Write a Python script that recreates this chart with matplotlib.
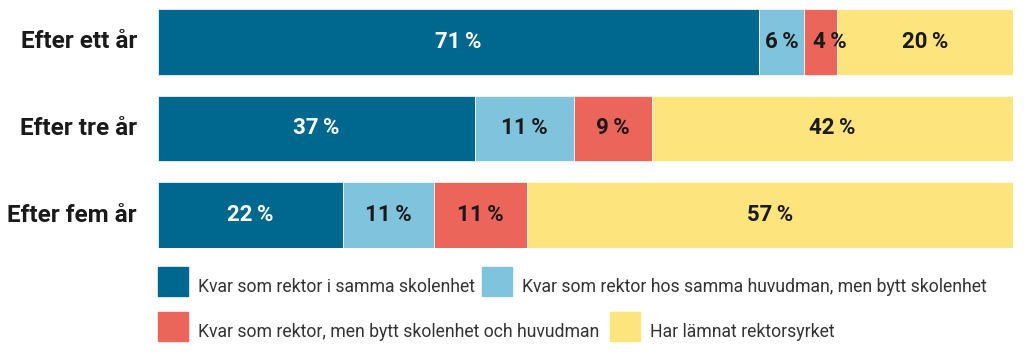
import numpy as np
import matplotlib.pyplot as plt
from matplotlib.patches import Rectangle

plt.rcParams['font.family'] = ['Roboto', 'DejaVu Sans']

categories = ['Efter ett år', 'Efter tre år', 'Efter fem år']
series_names = [
    'Kvar som rektor i samma skolenhet',
    'Kvar som rektor hos samma huvudman, men bytt skolenhet',
    'Kvar som rektor, men bytt skolenhet och huvudman',
    'Har lämnat rektorsyrket',
]
# printed (rounded) percentages
labels_pct = np.array([
    [71, 6, 4, 20],
    [37, 11, 9, 42],
    [22, 11, 11, 57],
])
# segment lengths (unrounded shares)
shares = np.array([
    [70.3, 5.3, 3.8, 20.6],
    [37.1, 11.5, 9.2, 42.2],
    [21.6, 10.7, 10.8, 56.9],
])
colors = ['#00678f', '#7fc4dc', '#ec655a', '#fde47d']
text_colors = ['white', '#1a1a1a', '#1a1a1a', '#1a1a1a']

W, H = 1024, 356
fig = plt.figure(figsize=(W / 100, H / 100), dpi=100)
ax = fig.add_axes([158 / W, 1 - 248 / H, 855 / W, 239 / H])

shares = shares / shares.sum(axis=1, keepdims=True) * 100
y = np.arange(len(categories))
bar_h = 0.76
left = np.zeros(len(categories))
for j in range(shares.shape[1]):
    ax.barh(y, shares[:, j], left=left, height=bar_h, color=colors[j],
            edgecolor='white', linewidth=0.5)
    for i in range(len(categories)):
        # very narrow segments get their label nudged right so it doesn't collide
        dx = 9 if shares[i, j] < 5 else 0
        ax.annotate(f'{labels_pct[i, j]}\u2009%',
                    xy=(left[i] + shares[i, j] / 2, y[i]), xytext=(dx, 0),
                    textcoords='offset pixels', ha='center', va='center',
                    fontsize=16, fontweight='bold', color=text_colors[j])
    left += shares[:, j]

ax.set_xlim(0, 100)
ax.set_ylim(len(categories) - 1 + bar_h / 2, -bar_h / 2)
ax.axis('off')

for i, cat in enumerate(categories):
    ax.annotate(cat, xy=(0, y[i]), xycoords='data', xytext=(-21, 0),
                textcoords='offset pixels', ha='right', va='center',
                fontsize=17.5, fontweight='bold', color='#1a1a1a')

# legend laid out as in the reference (flowing rows)
legend_pos = [(158, 267), (482, 267), (158, 312), (610, 312)]
for (px, py), name, c in zip(legend_pos, series_names, colors):
    fig.patches.append(Rectangle((px / W, 1 - (py + 29) / H), 30 / W, 29 / H,
                                 transform=fig.transFigure, color=c))
    fig.text((px + 40) / W, 1 - (py + 25) / H, name, ha='left', va='baseline',
             fontsize=12.7, color='#333333')

fig.savefig('out.png', dpi=100)
